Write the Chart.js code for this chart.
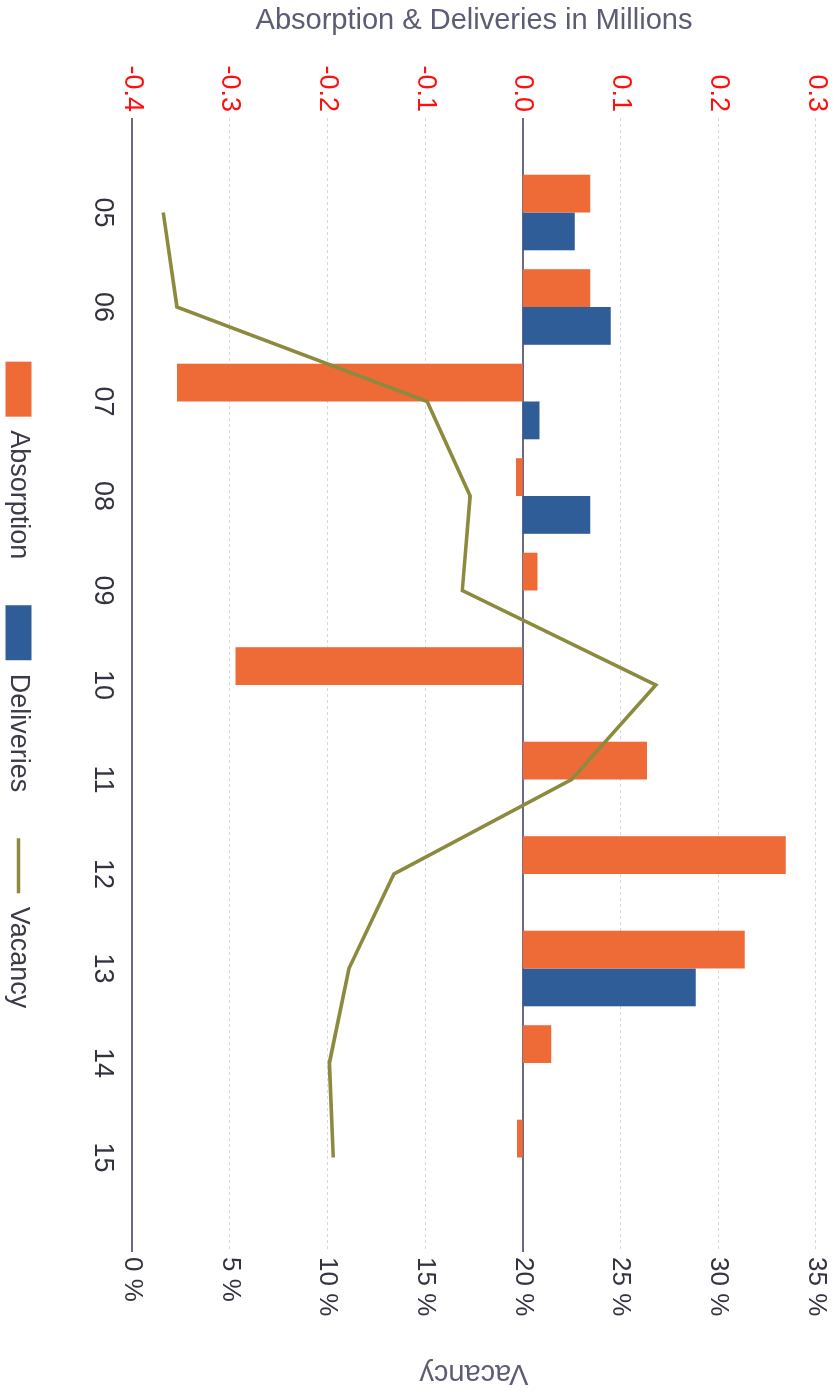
<!DOCTYPE html>
<html>
<head>
<meta charset="utf-8">
<title>Absorption, Deliveries and Vacancy</title>
<script src="https://cdn.jsdelivr.net/npm/chart.js@4.4.1/dist/chart.umd.min.js"></script>
<style>
  html, body { margin: 0; padding: 0; background: #ffffff; width: 839px; height: 1394px; overflow: hidden; }
  /* the chart is laid out landscape and turned a quarter turn clockwise */
  #frame {
    position: absolute; left: 0; top: 0;
    width: 1394px; height: 839px;
    transform-origin: 0 0;
    transform: translate(839px, 0) rotate(90deg);
  }
</style>
</head>
<body>
<div id="frame"><canvas id="chart" width="1394" height="839"></canvas></div>
<script>
// Years on the category axis
const years = ['05', '06', '07', '08', '09', '10', '11', '12', '13', '14', '15'];
// Net absorption, millions of sq ft
const absorption = [0.069, 0.069, -0.354, -0.007, 0.015, -0.294, 0.127, 0.269, 0.227, 0.029, -0.006];
// New deliveries, millions of sq ft (blank where nothing was delivered)
const deliveries = [0.053, 0.090, 0.017, 0.069, null, null, null, null, 0.177, null, null];
// Vacancy rate, percent
const vacancy = [1.6, 2.3, 15.1, 17.3, 16.9, 26.8, 22.5, 13.4, 11.1, 10.1, 10.3];

// Left axis: -0.4 .. 0.3 step 0.1, right axis: 0 .. 35 % step 5
const leftTicks = { min: -0.4, max: 0.3, step: 0.1 };
const rightTicks = { min: 0, max: 35, step: 5 };

// one empty slot on each side of the years keeps half a gap of air at both ends
const pad = (arr, fill) => [fill, ...arr, fill];
const labels = pad(years, '');

const FONT = "'Liberation Sans', Arial, sans-serif";
const ORANGE = '#ee6b37';
const BLUE = '#2e5d98';
const OLIVE = '#8c8a3e';
const DARK_LINE = '#6a6a86';
const LIGHT_LINE = '#d6d6e2';

const isMajor = v => Math.abs(v) < 1e-9 || Math.abs(v - leftTicks.min) < 1e-9;

new Chart(document.getElementById('chart'), {
  data: {
    labels: labels,
    datasets: [
      {
        type: 'bar', label: 'Absorption', data: pad(absorption, null),
        backgroundColor: ORANGE, borderColor: ORANGE, borderWidth: 0,
        yAxisID: 'y', order: 1, barPercentage: 1, categoryPercentage: 0.8
      },
      {
        type: 'bar', label: 'Deliveries', data: pad(deliveries, null),
        backgroundColor: BLUE, borderColor: BLUE, borderWidth: 0,
        yAxisID: 'y', order: 1, barPercentage: 1, categoryPercentage: 0.8
      },
      {
        type: 'line', label: 'Vacancy', data: pad(vacancy, null),
        borderColor: OLIVE, backgroundColor: OLIVE, borderWidth: 3.6,
        pointRadius: 0, tension: 0, fill: false,
        yAxisID: 'y1', order: 0
      }
    ]
  },
  options: {
    responsive: false,
    animation: false,
    devicePixelRatio: 1,
    layout: { padding: { top: 23, left: 0, right: 0, bottom: 0 } },
    plugins: {
      tooltip: { enabled: false },
      legend: {
        position: 'bottom',
        fullSize: false,
        maxHeight: 78,
        labels: {
          usePointStyle: true,
          pointStyleWidth: 55,
          boxHeight: 26,
          padding: 46,
          color: '#3a3a48',
          font: { family: FONT, size: 27 },
          generateLabels(chart) {
            const items = Chart.defaults.plugins.legend.labels.generateLabels(chart);
            items.forEach(it => {
              const ds = chart.data.datasets[it.datasetIndex];
              it.pointStyle = ds.type === 'line' ? 'line' : 'rect';
              if (ds.type === 'line') { it.strokeStyle = OLIVE; it.lineWidth = 3.6; }
              else { it.lineWidth = 0; }
            });
            return items.sort((a, b) => a.datasetIndex - b.datasetIndex);
          }
        }
      }
    },
    scales: {
      x: {
        type: 'category',
        offset: false,
        grid: { display: false, drawTicks: false },
        border: { display: false },
        ticks: {
          autoSkip: false, maxRotation: 0, minRotation: 0, padding: 13,
          color: '#333340', font: { family: FONT, size: 27 }
        },
        afterFit(s) { s.height = 54; }
      },
      y: {
        type: 'linear',
        position: 'left',
        min: leftTicks.min, max: leftTicks.max,
        ticks: {
          stepSize: leftTicks.step, padding: 6,
          color: '#ff1010', font: { family: FONT, size: 27 },
          callback: v => (Math.round(v * 10) / 10 + 0).toFixed(1)
        },
        grid: {
          drawTicks: false,
          color: c => isMajor(c.tick.value) ? DARK_LINE : LIGHT_LINE,
          lineWidth: c => isMajor(c.tick.value) ? 2 : 1
        },
        border: {
          display: false,
          dash: c => (c.tick && isMajor(c.tick.value)) ? [] : [3, 3]
        },
        title: {
          display: true, text: 'Absorption & Deliveries in Millions',
          color: '#5c5c76', font: { family: FONT, size: 29 },
          padding: { top: 4, bottom: 4 }
        },
        afterFit(s) { s.width = 118; }
      },
      y1: {
        type: 'linear',
        position: 'right',
        min: rightTicks.min, max: rightTicks.max,
        ticks: {
          stepSize: rightTicks.step, padding: 5,
          color: '#333340', font: { family: FONT, size: 26 },
          callback: v => v + ' %'
        },
        grid: { drawOnChartArea: false, drawTicks: false },
        border: { display: false },
        title: {
          display: true, text: 'Vacancy',
          color: '#5c5c76', font: { family: FONT, size: 29 },
          padding: { top: 4, bottom: 4 }
        },
        afterFit(s) { s.width = 142; }
      }
    }
  }
});
</script>
</body>
</html>
